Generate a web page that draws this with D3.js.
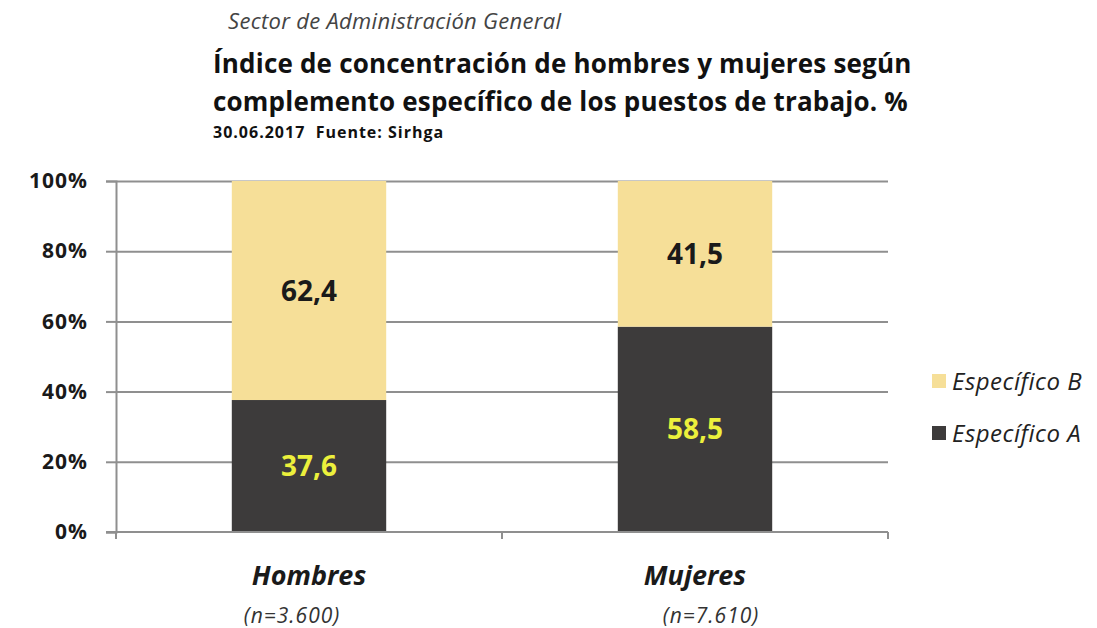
<!DOCTYPE html>
<meta charset="utf-8">
<style>
body { margin: 0; background: #fff; }
svg text { font-family: "Open Sans", Lato, sans-serif; }
.grid line { stroke: #8f8f8f; stroke-width: 2; }
.grid path { stroke-width: 0; }
</style>
<body>
<script src="https://cdn.jsdelivr.net/npm/d3@7"></script>
<script>

// data
var categories = ["Hombres", "Mujeres"];
var sampleLabels = ["(n=3.600)", "(n=7.610)"];
var especificoA = [37.6, 58.5];
var especificoB = [62.4, 41.5];
var yTicks = [0, 20, 40, 60, 80, 100];
var seriesNames = ["Específico A", "Específico B"];

var W = 1097, H = 628;
var plot = {left: 116, right: 888, top: 181, bottom: 532};

var svg = d3.select("body").append("svg")
	.attr("width", W)
	.attr("height", H);

// titles
svg.append("text")
	.attr("x", 228).attr("y", 29)
	.style("font-size", "22px").style("font-style", "italic")
	.style("letter-spacing", "0.3px")
	.style("fill", "#444")
	.text("Sector de Administración General");

svg.append("text")
	.attr("x", 213).attr("y", 73)
	.style("font-size", "26px").style("font-weight", "bold")
	.style("letter-spacing", "0.2px")
	.style("fill", "#111")
	.text("Índice de concentración de hombres y mujeres según");

svg.append("text")
	.attr("x", 213).attr("y", 111)
	.style("font-size", "26px").style("font-weight", "bold")
	.style("letter-spacing", "0.2px")
	.style("fill", "#111")
	.text("complemento específico de los puestos de trabajo. %");

svg.append("text")
	.attr("x", 213).attr("y", 138)
	.style("font-size", "16px").style("font-weight", "bold")
	.style("letter-spacing", "1px").style("white-space", "pre")
	.style("fill", "#111")
	.text("30.06.2017  Fuente: Sirhga");

// scales
var x = d3.scaleBand()
	.domain(categories)
	.range([plot.left, plot.right])
	.paddingInner(0.6)
	.paddingOuter(0.3);

var xFull = d3.scaleBand()
	.domain(categories)
	.range([plot.left, plot.right]);

var y = d3.scaleLinear()
	.domain([0, 100])
	.range([plot.bottom, plot.top]);

// grid lines
svg.append("g")
	.attr("class", "grid")
	.attr("transform", "translate(" + plot.left + ",0)")
	.call(d3.axisRight(y)
		.tickValues(yTicks.slice(1))
		.tickSize(plot.right - plot.left)
		.tickFormat(""));

// y axis
var yAxis = svg.append("g")
	.attr("class", "grid")
	.attr("transform", "translate(" + plot.left + ",0)")
	.call(d3.axisLeft(y)
		.tickValues(yTicks)
		.tickSize(10)
		.tickPadding(18)
		.tickFormat(function(d) { return d + "%"; }));
yAxis.select(".domain").style("stroke", "#8f8f8f").style("stroke-width", 2);
yAxis.selectAll("text")
	.style("font-size", "21px").style("font-weight", "bold")
	.style("letter-spacing", "1px")
	.style("fill", "#1a1a1a").style("font-family", "'Open Sans', sans-serif");

// bars
var stackData = categories.map(function(c, i) {
	return {cat: c, A: especificoA[i], B: especificoB[i]};
});

svg.selectAll(".barA").data(stackData).enter().append("rect")
	.attr("x", function(d) { return x(d.cat); })
	.attr("width", x.bandwidth())
	.attr("y", function(d) { return y(d.A); })
	.attr("height", function(d) { return y(0) - y(d.A); })
	.style("fill", "#3d3b3b");

svg.selectAll(".barB").data(stackData).enter().append("rect")
	.attr("x", function(d) { return x(d.cat); })
	.attr("width", x.bandwidth())
	.attr("y", function(d) { return y(d.A + d.B); })
	.attr("height", function(d) { return y(d.A) - y(d.A + d.B); })
	.style("fill", "#f6df98");

// x axis
var xAxis = svg.append("g")
	.attr("transform", "translate(0," + plot.bottom + ")");
xAxis.append("line")
	.attr("x1", plot.left - 10).attr("x2", plot.right)
	.style("stroke", "#8f8f8f").style("stroke-width", 2);
xAxis.selectAll(".xt").data([plot.left, xFull(categories[1]), plot.right]).enter().append("line")
	.attr("x1", function(d) { return d; }).attr("x2", function(d) { return d; })
	.attr("y1", 0).attr("y2", 7)
	.style("stroke", "#8f8f8f").style("stroke-width", 2);

// value labels
function fmt(v) { return v.toFixed(1).replace(".", ","); }

svg.selectAll(".labA").data(stackData).enter().append("text")
	.attr("x", function(d) { return x(d.cat) + x.bandwidth() / 2; })
	.attr("y", function(d) { return (y(0) + y(d.A)) / 2 + 10; })
	.attr("text-anchor", "middle")
	.style("font-size", "28px").style("font-weight", "bold")
	.style("fill", "#ecf03c")
	.text(function(d) { return fmt(d.A); });

svg.selectAll(".labB").data(stackData).enter().append("text")
	.attr("x", function(d) { return x(d.cat) + x.bandwidth() / 2; })
	.attr("y", function(d) { return (y(d.A) + y(d.A + d.B)) / 2 + 10; })
	.attr("text-anchor", "middle")
	.style("font-size", "28px").style("font-weight", "bold")
	.style("fill", "#1a1a1a")
	.text(function(d) { return fmt(d.B); });

// category labels
svg.selectAll(".cat").data(categories).enter().append("text")
	.attr("x", function(d) { return x(d) + x.bandwidth() / 2; })
	.attr("y", 585)
	.attr("text-anchor", "middle")
	.style("font-size", "27px").style("font-weight", "bold").style("font-style", "italic")
	.style("fill", "#1a1a1a")
	.text(function(d) { return d; });

svg.selectAll(".ncat").data(categories).enter().append("text")
	.attr("x", function(d) { return x(d) + x.bandwidth() / 2; })
	.attr("dx", function(d, i) { return i === 0 ? -17 : 16; })
	.attr("y", 623)
	.attr("text-anchor", "middle")
	.style("font-size", "21px").style("font-style", "italic")
	.style("letter-spacing", "1px")
	.style("fill", "#333")
	.text(function(d, i) { return sampleLabels[i]; });

// legend
var legendColors = {"Específico A": "#3d3b3b", "Específico B": "#f6df98"};
var legend = svg.selectAll(".leg").data(seriesNames.slice().reverse()).enter().append("g")
	.attr("transform", function(d, i) { return "translate(932," + (374 + i * 52) + ")"; });
legend.append("rect")
	.attr("width", 14).attr("height", 14)
	.style("fill", function(d) { return legendColors[d]; });
legend.append("text")
	.attr("x", 20).attr("y", 16)
	.style("font-size", "24px").style("font-style", "italic")
	.style("letter-spacing", "0.5px")
	.style("fill", "#222")
	.text(function(d) { return d; });

</script>
</body>
